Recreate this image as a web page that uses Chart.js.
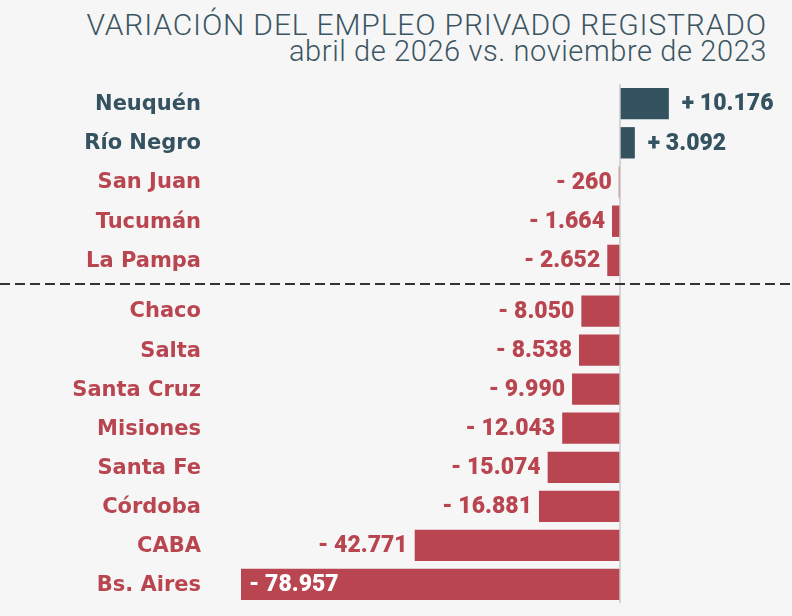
<!DOCTYPE html>
<html>
<head>
<meta charset="utf-8">
<script src="https://cdn.jsdelivr.net/npm/chart.js@4"></script>
<style>
  body { margin: 0; background: #f6f6f6; }
  #wrap { position: relative; width: 792px; height: 616px; overflow: hidden; background: #f6f6f6; }
  .titulo { position: absolute; right: 25px; color: #3b5561; font-family: Roboto, sans-serif; font-weight: 300; white-space: nowrap; text-align: right; }
  #t1 { top: 7px; font-size: 30px; letter-spacing: 0.85px; }
  #t2 { top: 34px; font-size: 29px; letter-spacing: 0.6px; }
  #cArriba { position: absolute; left: 0; top: 84px; }
  #cAbajo { position: absolute; left: 0; top: 286px; }
</style>
</head>
<body>
<div id="wrap">
  <div class="titulo" id="t1">VARIACIÓN DEL EMPLEO PRIVADO REGISTRADO</div>
  <div class="titulo" id="t2">abril de 2026 vs. noviembre de 2023</div>
  <canvas id="cArriba" width="792" height="202"></canvas>
  <canvas id="cAbajo" width="792" height="318"></canvas>
</div>
<script>
// Provincias sobre la línea punteada
const provArriba = ['Neuquén', 'Río Negro', 'San Juan', 'Tucumán', 'La Pampa'];
const valArriba = [10176, 3092, -260, -1664, -2652];

// Provincias debajo de la línea punteada
const provAbajo = ['Chaco', 'Salta', 'Santa Cruz', 'Misiones', 'Santa Fe', 'Córdoba', 'CABA', 'Bs. Aires'];
const valAbajo = [-8050, -8538, -9990, -12043, -15074, -16881, -42771, -78957];

const AZUL = '#34525f';
const ROJO = '#b8454f';

function colorDe(v) { return v >= 0 ? AZUL : ROJO; }

// Formato con punto de miles, como en el original
function formatear(v) {
    const abs = Math.abs(v).toString().replace(/\B(?=(\d{3})+(?!\d))/g, '.');
    return (v >= 0 ? '+ ' : '- ') + abs;
}

// Plugin: nombres de provincia, línea del cero, valores y línea punteada
const extras = {
    id: 'extras',
    afterDatasetsDraw(chart, args, opts) {
        const ctx = chart.ctx;
        const area = chart.chartArea;
        const escY = chart.scales.y;
        const x0 = chart.scales.x.getPixelForValue(0);
        const datos = chart.data.datasets[0].data;

        ctx.save();

        // línea vertical del cero
        ctx.strokeStyle = '#cacaca';
        ctx.lineWidth = 1.5;
        ctx.beginPath();
        ctx.moveTo(x0, opts.arriba ? area.top : 0);
        ctx.lineTo(x0, opts.arriba ? chart.height : area.bottom - 1);
        ctx.stroke();

        // nombres de provincia, alineados a la derecha
        ctx.font = 'bold 21px "DejaVu Sans", sans-serif';
        ctx.textAlign = 'right';
        ctx.textBaseline = 'middle';
        chart.data.labels.forEach((lab, i) => {
            ctx.fillStyle = colorDe(datos[i]);
            ctx.fillText(lab, 201, escY.getPixelForValue(i) + 1);
        });

        // valores
        ctx.font = '900 23px Roboto, sans-serif';
        chart.getDatasetMeta(0).data.forEach((bar, i) => {
            const v = datos[i];
            const txt = formatear(v);
            const w = ctx.measureText(txt).width;
            if (v >= 0) {
                ctx.fillStyle = AZUL;
                ctx.textAlign = 'left';
                ctx.fillText(txt, bar.x + 13, bar.y + 1);
            } else if (bar.x - 7 - w < area.left) {
                ctx.fillStyle = '#ffffff';
                ctx.textAlign = 'left';
                ctx.fillText(txt, bar.x + 8, bar.y + 1);
            } else {
                ctx.fillStyle = ROJO;
                ctx.textAlign = 'right';
                ctx.fillText(txt, bar.x - 7, bar.y + 1);
            }
        });

        // línea punteada de separación
        if (opts.arriba) {
            ctx.strokeStyle = '#333333';
            ctx.lineWidth = 2;
            ctx.setLineDash([10, 5]);
            ctx.beginPath();
            ctx.moveTo(0, chart.height - 2);
            ctx.lineTo(chart.width, chart.height - 2);
            ctx.stroke();
        }
        ctx.restore();
    }
};

function crearGrafico(id, labels, valores, arriba) {
    new Chart(document.getElementById(id), {
        type: 'bar',
        data: {
            labels: labels,
            datasets: [{
                data: valores,
                backgroundColor: valores.map(colorDe),
                borderWidth: 0,
                categoryPercentage: 1,
                barPercentage: 0.8
            }]
        },
        options: {
            indexAxis: 'y',
            responsive: false,
            animation: false,
            layout: { padding: arriba ? { top: 0, bottom: 6, left: 210, right: 0 } : { top: 5.5, bottom: 0, left: 210, right: 0 } },
            plugins: {
                legend: { display: false },
                tooltip: { enabled: false },
                extras: { arriba: arriba }
            },
            scales: {
                x: { display: false, min: -85417, max: 35833 },
                y: { display: false }
            }
        },
        plugins: [extras]
    });
}

crearGrafico('cArriba', provArriba, valArriba, true);
crearGrafico('cAbajo', provAbajo, valAbajo, false);
</script>
</body>
</html>
